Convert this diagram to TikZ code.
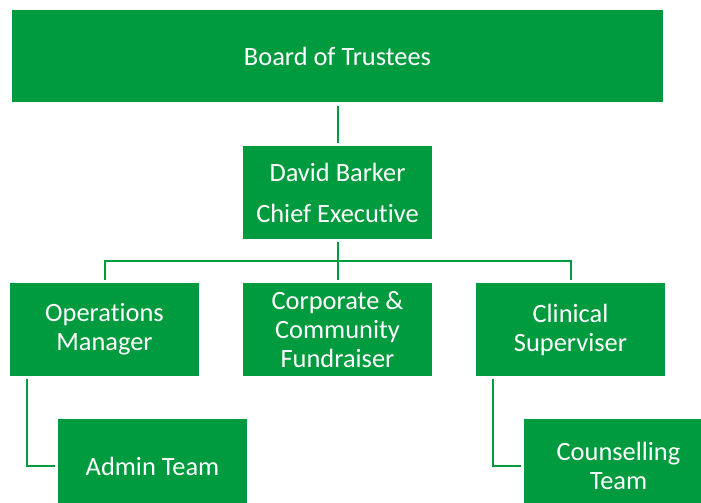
\documentclass[tikz,border=0pt]{standalone}
\usepackage{fontspec}
\setmainfont[Ligatures=NoCommon]{Carlito}
\definecolor{orggreen}{RGB}{0,155,62}
\begin{document}
\begin{tikzpicture}[x=1pt,y=-1pt,
  box/.style={rectangle,fill=orggreen,text=white,inner sep=0pt,align=center,
    minimum width=189pt,minimum height=93pt,font=\fontsize{26.4}{29}\selectfont},
  conn/.style={draw=orggreen,line width=2pt}]
\useasboundingbox (0,0) rectangle (701,503);
\clip (0,0) rectangle (701,503);
\node[box,minimum width=651pt,minimum height=92pt] (board) at (337.5,56) {Board of Trustees};
\node[box,font=\fontsize{26.4}{41}\selectfont] (david) at (337.5,192.5) {David Barker\\Chief Executive};
\node[box] (ops) at (104.5,329.5) {Operations\\Manager};
\node[box] (corp) at (337.5,329.5) {Corporate \&\\Community\\Fundraiser};
\node[box] (clin) at (570.5,329.5) {Clinical\\Superviser};
\node[box,minimum height=94pt] (admin) at (152.5,466) {Admin Team};
\node[box,minimum height=94pt] (couns) at (618.5,466) {Counselling\\Team};
\coordinate (bar) at (0,261);
\draw[conn] ([yshift=-4pt]board.south) -- ([yshift=3pt]david.north);
\draw[conn] ([yshift=-3pt]david.south) -- ([yshift=3pt]corp.north);
\draw[conn] ([yshift=3pt]ops.north) -- (ops.north |- bar) -- (clin.north |- bar) -- ([yshift=3pt]clin.north);
\draw[conn] ([xshift=17pt,yshift=-3pt]ops.south west) |- ([xshift=-3pt]admin.west);
\draw[conn] ([xshift=17pt,yshift=-3pt]clin.south west) |- ([xshift=-3pt]couns.west);
\end{tikzpicture}
\end{document}
